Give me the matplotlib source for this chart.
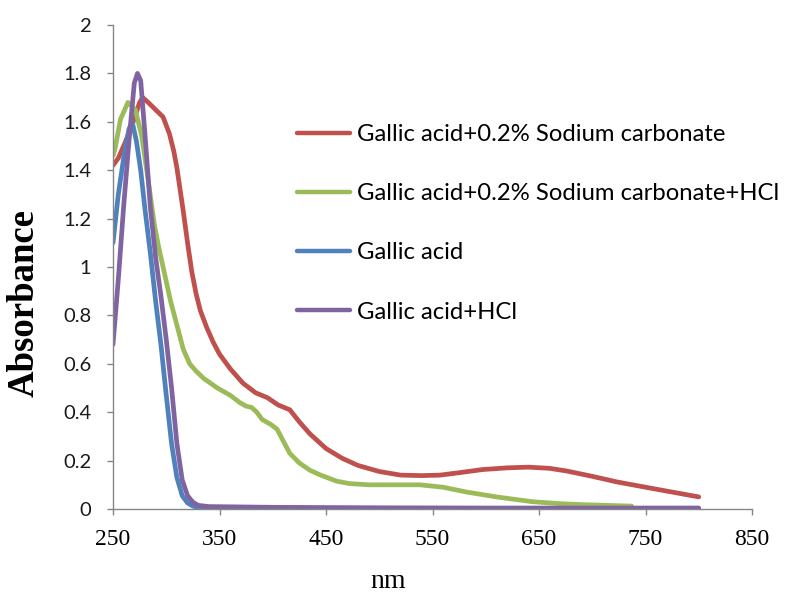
import numpy as np
import matplotlib
matplotlib.use('Agg')
import matplotlib.pyplot as plt

# wavelength (nm) / absorbance
nm_red = [250, 255, 261, 269, 275, 278, 283, 290, 297, 303, 307, 310, 316, 320, 324, 328, 332, 338, 344, 350,
          360, 372, 384, 395, 405, 416, 425, 435, 450, 465, 480, 500, 520, 540, 557, 575, 597, 620, 640, 660,
          676, 700, 723, 750, 775, 800]
ab_red = [1.42, 1.45, 1.51, 1.60, 1.68, 1.70, 1.68, 1.65, 1.62, 1.55, 1.48, 1.41, 1.23, 1.10, 0.98, 0.89, 0.82, 0.75, 0.69, 0.64,
          0.58, 0.52, 0.48, 0.46, 0.43, 0.41, 0.36, 0.31, 0.25, 0.21, 0.18, 0.155, 0.14, 0.138, 0.14, 0.15, 0.163, 0.17, 0.173, 0.168,
          0.157, 0.135, 0.112, 0.09, 0.07, 0.05]

nm_green = [250, 252, 257, 264, 271, 277, 283, 289, 293, 299, 304, 310, 316, 322, 328, 335, 348, 360, 369, 375,
            380, 385, 390, 398, 404, 410, 416, 425, 435, 445, 460, 472, 490, 538, 560, 582, 610, 644, 670, 691, 737]
ab_green = [1.46, 1.49, 1.61, 1.68, 1.65, 1.54, 1.36, 1.17, 1.08, 0.96, 0.86, 0.76, 0.66, 0.60, 0.57, 0.54, 0.50, 0.47, 0.44, 0.425,
            0.42, 0.40, 0.37, 0.35, 0.33, 0.28, 0.23, 0.19, 0.16, 0.14, 0.115, 0.105, 0.10, 0.10, 0.09, 0.07, 0.05, 0.03, 0.022, 0.018, 0.012]

nm_blue = [250, 255, 260, 265, 268, 272, 276, 280, 285, 290, 295, 300, 305, 310, 315, 320, 325, 330, 340, 400,
           500, 600, 700, 800]
ab_blue = [1.10, 1.30, 1.45, 1.57, 1.60, 1.52, 1.40, 1.24, 1.06, 0.86, 0.68, 0.47, 0.27, 0.13, 0.055, 0.025, 0.012, 0.006, 0.004, 0.003,
           0.002, 0.002, 0.0, 0.0]

nm_purple = [250, 255, 260, 265, 270, 273, 276, 280, 285, 290, 295, 300, 305, 310, 315, 320, 325, 330, 340, 400,
             500, 600, 700, 800]
ab_purple = [0.68, 0.95, 1.25, 1.52, 1.76, 1.80, 1.77, 1.55, 1.25, 1.04, 0.88, 0.70, 0.50, 0.27, 0.12, 0.055, 0.028, 0.015, 0.01, 0.007,
             0.005, 0.004, 0.004, 0.004]

labels = ['Gallic acid+0.2% Sodium carbonate',
          'Gallic acid+0.2% Sodium carbonate+HCl',
          'Gallic acid',
          'Gallic acid+HCl']
colors = ['#C0504D', '#9BBB59', '#4F81BD', '#8064A2']

fig = plt.figure(figsize=(7.85, 5.95), dpi=100)
ax = fig.add_axes([113/785, 1-509/595, (752-113)/785, (509-25)/595])

series = [(nm_red, ab_red), (nm_green, ab_green), (nm_blue, ab_blue), (nm_purple, ab_purple)]
for (x, y), lab, c in zip(series, labels, colors):
    ax.plot(x, y, color=c, lw=3.4, label=lab, solid_capstyle='round', solid_joinstyle='round')

ax.set_xlim(250, 850)
ax.set_ylim(0, 2)
ax.set_xticks(np.arange(250, 851, 100))
ax.set_yticks(np.arange(0, 2.01, 0.2))
ax.set_yticklabels(['0', '0.2', '0.4', '0.6', '0.8', '1', '1.2', '1.4', '1.6', '1.8', '2'])

for s in ['top', 'right']:
    ax.spines[s].set_visible(False)
for s in ['left', 'bottom']:
    ax.spines[s].set_color('#868686')
    ax.spines[s].set_linewidth(1.0)
ax.tick_params(axis='both', direction='out', length=4.5, color='#868686', width=1.0)
ax.tick_params(axis='y', pad=11)
ax.tick_params(axis='x', pad=10)

for t in ax.get_yticklabels():
    t.set_fontfamily('Lato')
    t.set_fontsize(14.5)
    t.set_color('#1a1a1a')
for t in ax.get_xticklabels():
    t.set_fontfamily('Liberation Serif')
    t.set_fontsize(17)

ax.set_xlabel('nm', fontfamily='Liberation Serif', fontsize=20)
ax.xaxis.set_label_coords((388-113)/639, -60/484)
ax.set_ylabel('Absorbance', fontfamily='Liberation Serif', fontsize=26.5, fontweight='bold')
ax.yaxis.set_label_coords((42-113)/639, (509-303)/484)

leg = ax.legend(loc='upper left', bbox_to_anchor=(297/785, 1-124/595), bbox_transform=fig.transFigure,
                frameon=False, prop={'family': 'Lato', 'size': 17.2}, handlelength=2.2,
                handletextpad=0.3, labelspacing=1.6, borderpad=0, borderaxespad=0)
for h in leg.get_lines():
    h.set_linewidth(3.2)

fig.savefig('out.png', dpi=100)
